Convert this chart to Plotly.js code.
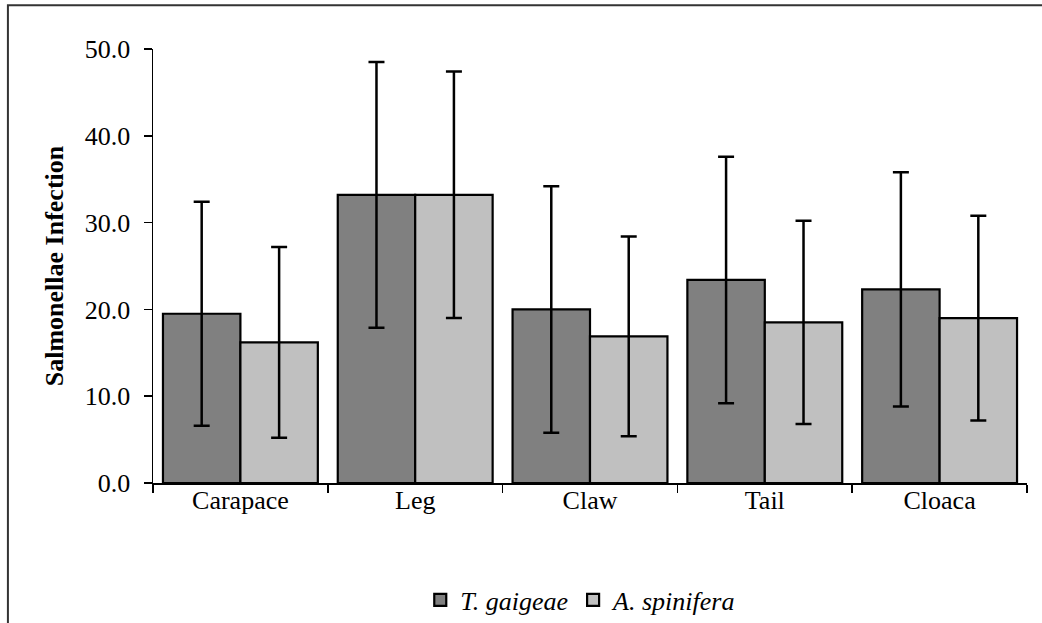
<!DOCTYPE html>
<html>
<head>
<meta charset="utf-8">
<script src="https://cdn.plot.ly/plotly-3.0.1.min.js"></script>
<style>
  html, body { margin: 0; padding: 0; background: #ffffff; overflow: hidden; }
  #chart { width: 1042px; height: 623px; }
</style>
</head>
<body>
<div id="chart"></div>
<script>
var categories = ['Carapace', 'Leg', 'Claw', 'Tail', 'Cloaca'];
var seriesNames = ['T. gaigeae', 'A. spinifera'];
var tGaigeae = [19.5, 33.2, 20.0, 23.4, 22.3];
var tGaigeaeErr = [12.9, 15.3, 14.2, 14.2, 13.5];
var aSpinifera = [16.2, 33.2, 16.9, 18.5, 19.0];
var aSpiniferaErr = [11.0, 14.2, 11.5, 11.7, 11.8];
var yTitle = 'Salmonellae Infection';

var fontFamily = 'Liberation Serif, Times New Roman, Times, serif';

var errStyle = { type: 'data', visible: true, color: '#000000', thickness: 2.5, width: 8 };

var traces = [
  {
    type: 'bar', name: seriesNames[0], x: categories, y: tGaigeae,
    marker: { color: '#808080', line: { color: '#000000', width: 2.2 } },
    error_y: Object.assign({ array: tGaigeaeErr }, errStyle)
  },
  {
    type: 'bar', name: seriesNames[1], x: categories, y: aSpinifera,
    marker: { color: '#c0c0c0', line: { color: '#000000', width: 2.2 } },
    error_y: Object.assign({ array: aSpiniferaErr }, errStyle)
  }
];

var layout = {
  width: 1042, height: 623,
  margin: { l: 153, r: 15, t: 49, b: 140, pad: 0 },
  paper_bgcolor: '#ffffff', plot_bgcolor: '#ffffff',
  font: { family: fontFamily, color: '#000000', size: 26 },
  barmode: 'group', bargap: 0.114, bargroupgap: 0,
  showlegend: true,
  legend: {
    orientation: 'h', xref: 'paper', x: 0.49, xanchor: 'center',
    yref: 'container', y: 0.037, yanchor: 'middle',
    font: { family: 'Liberation Serif', size: 26, color: '#000000', style: 'italic' },
    itemwidth: 30, traceorder: 'normal', tracegroupgap: 0
  },
  xaxis: {
    type: 'category', range: [-0.5, 4.5], tickson: 'boundaries',
    ticks: 'outside', ticklen: 8, tickwidth: 1.5, tickcolor: '#000000',
    ticklabelstandoff: -7,
    showline: true, linecolor: '#000000', linewidth: 1.5,
    showgrid: false, zeroline: false, automargin: false,
    tickfont: { family: fontFamily, size: 26, color: '#000000' }
  },
  yaxis: {
    range: [0, 50], dtick: 10, tick0: 0, tickformat: '.1f',
    ticks: 'outside', ticklen: 8, tickwidth: 1.5, tickcolor: '#000000',
    ticklabelstandoff: 8,
    showline: true, linecolor: '#000000', linewidth: 1.5,
    showgrid: false, zeroline: false, automargin: false,
    tickfont: { family: fontFamily, size: 26, color: '#000000' },
    title: { text: '<b>' + yTitle + '</b>', standoff: 13,
             font: { family: fontFamily, size: 26, color: '#000000' } }
  },
  shapes: [
    { type: 'rect', xref: 'paper', yref: 'paper',
      x0: -0.166, x1: 1.2, y0: -0.6, y1: 1.101,
      line: { color: '#333333', width: 2 }, fillcolor: 'rgba(0,0,0,0)' }
  ]
};

Plotly.newPlot('chart', traces, layout, { displayModeBar: false, staticPlot: true });
</script>
</body>
</html>
